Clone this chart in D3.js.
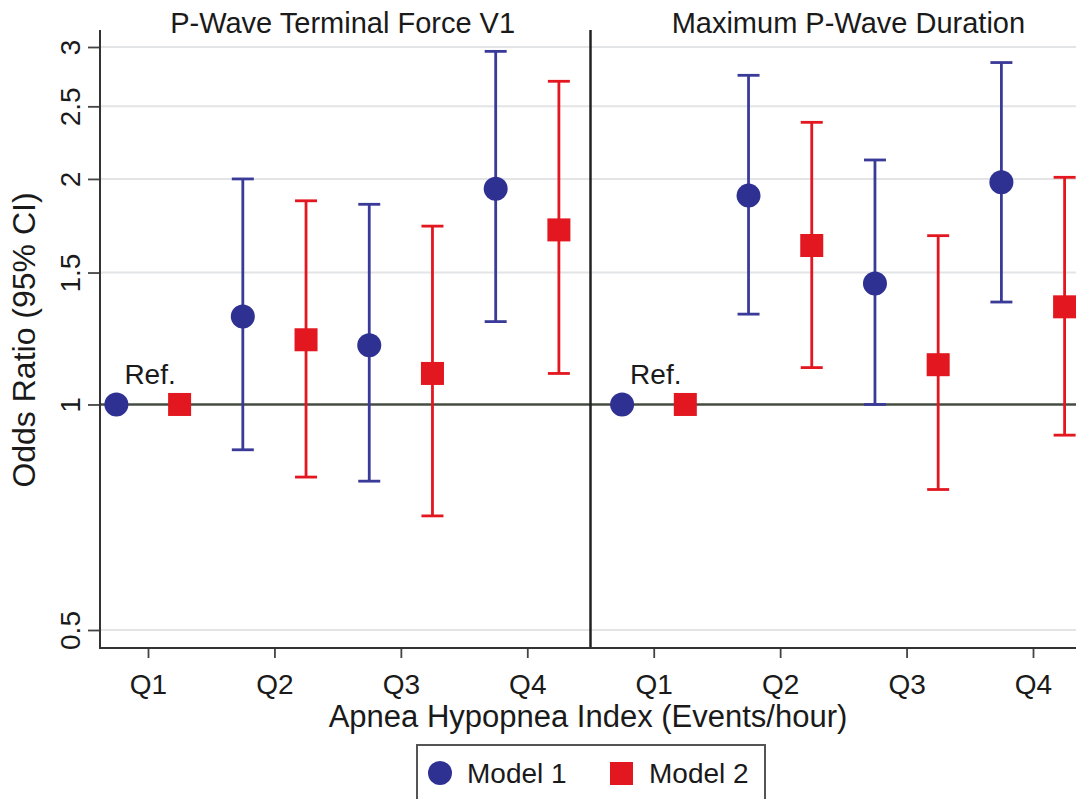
<!DOCTYPE html>
<html>
<head>
<meta charset="utf-8">
<script src="https://cdn.jsdelivr.net/npm/d3@7"></script>
<style>
  html, body { margin: 0; padding: 0; background: #fff; }
  svg { display: block; font-family: "Liberation Sans", Arial, Helvetica, sans-serif; }
</style>
</head>
<body>
<svg id="chart" width="1076" height="799"></svg>
<script>
// ---------- data ----------
const panels = ["P-Wave Terminal Force V1", "Maximum P-Wave Duration"];
const quartiles = ["Q1", "Q2", "Q3", "Q4"];
const models = ["Model 1", "Model 2"];
const yTicks = [0.5, 1, 1.5, 2, 2.5, 3];

// P-Wave Terminal Force V1
const ptf_m1_or  = [1, 1.31, 1.20, 1.94];
const ptf_m1_lo  = [1, 0.87, 0.79, 1.29];
const ptf_m1_hi  = [1, 2.00, 1.85, 2.96];
const ptf_m2_or  = [1, 1.22, 1.10, 1.71];
const ptf_m2_lo  = [1, 0.80, 0.71, 1.10];
const ptf_m2_hi  = [1, 1.87, 1.73, 2.70];

// Maximum P-Wave Duration
const mpd_m1_or  = [1, 1.90, 1.45, 1.98];
const mpd_m1_lo  = [1, 1.32, 1.00, 1.37];
const mpd_m1_hi  = [1, 2.75, 2.12, 2.86];
const mpd_m2_or  = [1, 1.63, 1.13, 1.35];
const mpd_m2_lo  = [1, 1.12, 0.77, 0.91];
const mpd_m2_hi  = [1, 2.38, 1.68, 2.01];

// ---------- layout ----------
const BLUE = "#2e3192", BLUE_LINE = "#3a3a98", RED = "#e3171f";
const TXT = "#1a1a1a";
const plotTop = 30, plotBottom = 648, axisX = 100;
const W = 1076;
const svg = d3.select("#chart");

const x = d3.scaleLinear().domain([0, 7]).range([148, 1033]);
const y = d3.scaleLog().domain([0.5, 3]).range([630, 47]);
const offset = 0.25;

// build point table
const series = [
  [ptf_m1_or, ptf_m1_lo, ptf_m1_hi, ptf_m2_or, ptf_m2_lo, ptf_m2_hi],
  [mpd_m1_or, mpd_m1_lo, mpd_m1_hi, mpd_m2_or, mpd_m2_lo, mpd_m2_hi]
];
const pts = [];
series.forEach((s, p) => {
  quartiles.forEach((q, i) => {
    const pos = p * 4 + i;
    pts.push({model: 0, pos: pos - offset, or: s[0][i], lo: s[1][i], hi: s[2][i], ref: i === 0});
    pts.push({model: 1, pos: pos + offset, or: s[3][i], lo: s[4][i], hi: s[5][i], ref: i === 0});
  });
});

// gridlines
svg.append("g").selectAll("line").data(yTicks.filter(t => t !== 1)).join("line")
  .attr("x1", axisX).attr("x2", W)
  .attr("y1", d => y(d)).attr("y2", d => y(d))
  .attr("stroke", "#e2e4e6").attr("stroke-width", 2);

// reference line at 1
svg.append("line")
  .attr("x1", axisX).attr("x2", W).attr("y1", y(1)).attr("y2", y(1))
  .attr("stroke", "#454d40").attr("stroke-width", 2.5);

// panel divider
svg.append("line")
  .attr("x1", x(3.5)).attr("x2", x(3.5)).attr("y1", plotTop).attr("y2", plotBottom)
  .attr("stroke", "#222").attr("stroke-width", 2.5);

// y axis
const yAxis = svg.append("g").attr("transform", `translate(${axisX},0)`)
  .call(d3.axisLeft(y).tickValues(yTicks).tickFormat(d => String(d)).tickSize(12).tickSizeOuter(0));
yAxis.select(".domain").remove();
yAxis.selectAll(".tick line").attr("stroke", "#444").attr("stroke-width", 1.8);
yAxis.selectAll(".tick text")
  .attr("font-size", 28).attr("fill", TXT).attr("font-family", null)
  .attr("x", 0).attr("y", 0).attr("dy", null)
  .attr("text-anchor", "middle")
  .attr("transform", "translate(-20,0) rotate(-90)");
svg.append("line").attr("x1", axisX).attr("x2", axisX).attr("y1", plotTop).attr("y2", plotBottom + 1)
  .attr("stroke", "#333").attr("stroke-width", 2);

// x axis
const xAxis = svg.append("g").attr("transform", `translate(0,${plotBottom})`)
  .call(d3.axisBottom(x).tickValues(d3.range(8)).tickFormat(d => quartiles[d % 4]).tickSize(10).tickSizeOuter(0));
xAxis.select(".domain").remove();
xAxis.selectAll(".tick line").attr("stroke", "#444").attr("stroke-width", 1.8);
xAxis.selectAll(".tick text").attr("font-size", 28).attr("fill", TXT).attr("font-family", null)
  .attr("y", 46).attr("dy", null);
svg.append("line").attr("x1", axisX - 1).attr("x2", W).attr("y1", plotBottom).attr("y2", plotBottom)
  .attr("stroke", "#333").attr("stroke-width", 2);

// panel titles
panels.forEach((t, p) => {
  svg.append("text").attr("x", (x(p * 4) + x(p * 4 + 3)) / 2 + 5).attr("y", 33)
    .attr("text-anchor", "middle").attr("font-size", 29).attr("fill", TXT).text(t);
});

// axis titles
svg.append("text").attr("x", 588).attr("y", 727).attr("text-anchor", "middle")
  .attr("font-size", 31).attr("fill", TXT).text("Apnea Hypopnea Index (Events/hour)");
svg.append("text").attr("transform", "translate(35,340) rotate(-90)").attr("text-anchor", "middle")
  .attr("font-size", 32).attr("fill", TXT).text("Odds Ratio (95% CI)");

// error bars
const cap = 11;
const bars = svg.append("g").selectAll("g").data(pts.filter(d => !d.ref)).join("g")
  .attr("stroke", d => d.model === 0 ? BLUE_LINE : RED).attr("stroke-width", 2.8);
bars.append("line").attr("x1", d => x(d.pos)).attr("x2", d => x(d.pos))
  .attr("y1", d => y(d.lo)).attr("y2", d => y(d.hi));
bars.append("line").attr("x1", d => x(d.pos) - cap).attr("x2", d => x(d.pos) + cap)
  .attr("y1", d => y(d.lo)).attr("y2", d => y(d.lo));
bars.append("line").attr("x1", d => x(d.pos) - cap).attr("x2", d => x(d.pos) + cap)
  .attr("y1", d => y(d.hi)).attr("y2", d => y(d.hi));

// markers
svg.append("g").selectAll("circle").data(pts.filter(d => d.model === 0)).join("circle")
  .attr("cx", d => x(d.pos)).attr("cy", d => y(d.or)).attr("r", 12).attr("fill", BLUE);
const sq = 23;
svg.append("g").selectAll("rect").data(pts.filter(d => d.model === 1)).join("rect")
  .attr("x", d => x(d.pos) - sq / 2).attr("y", d => y(d.or) - sq / 2)
  .attr("width", sq).attr("height", sq).attr("fill", RED);

// Ref. labels
pts.filter(d => d.ref && d.model === 0).forEach(d => {
  svg.append("text").attr("x", x(d.pos) + 8).attr("y", y(d.or) - 20)
    .attr("font-size", 28).attr("fill", TXT).text("Ref.");
});

// legend
const lg = svg.append("g");
lg.append("rect").attr("x", 417).attr("y", 745).attr("width", 348).attr("height", 80)
  .attr("fill", "#fff").attr("stroke", "#555").attr("stroke-width", 2);
lg.append("circle").attr("cx", 440).attr("cy", 773).attr("r", 12).attr("fill", BLUE);
lg.append("text").attr("x", 467).attr("y", 783).attr("font-size", 28).attr("fill", TXT).text(models[0]);
lg.append("rect").attr("x", 610).attr("y", 762).attr("width", sq).attr("height", sq).attr("fill", RED);
lg.append("text").attr("x", 649).attr("y", 783).attr("font-size", 28).attr("fill", TXT).text(models[1]);
</script>
</body>
</html>
